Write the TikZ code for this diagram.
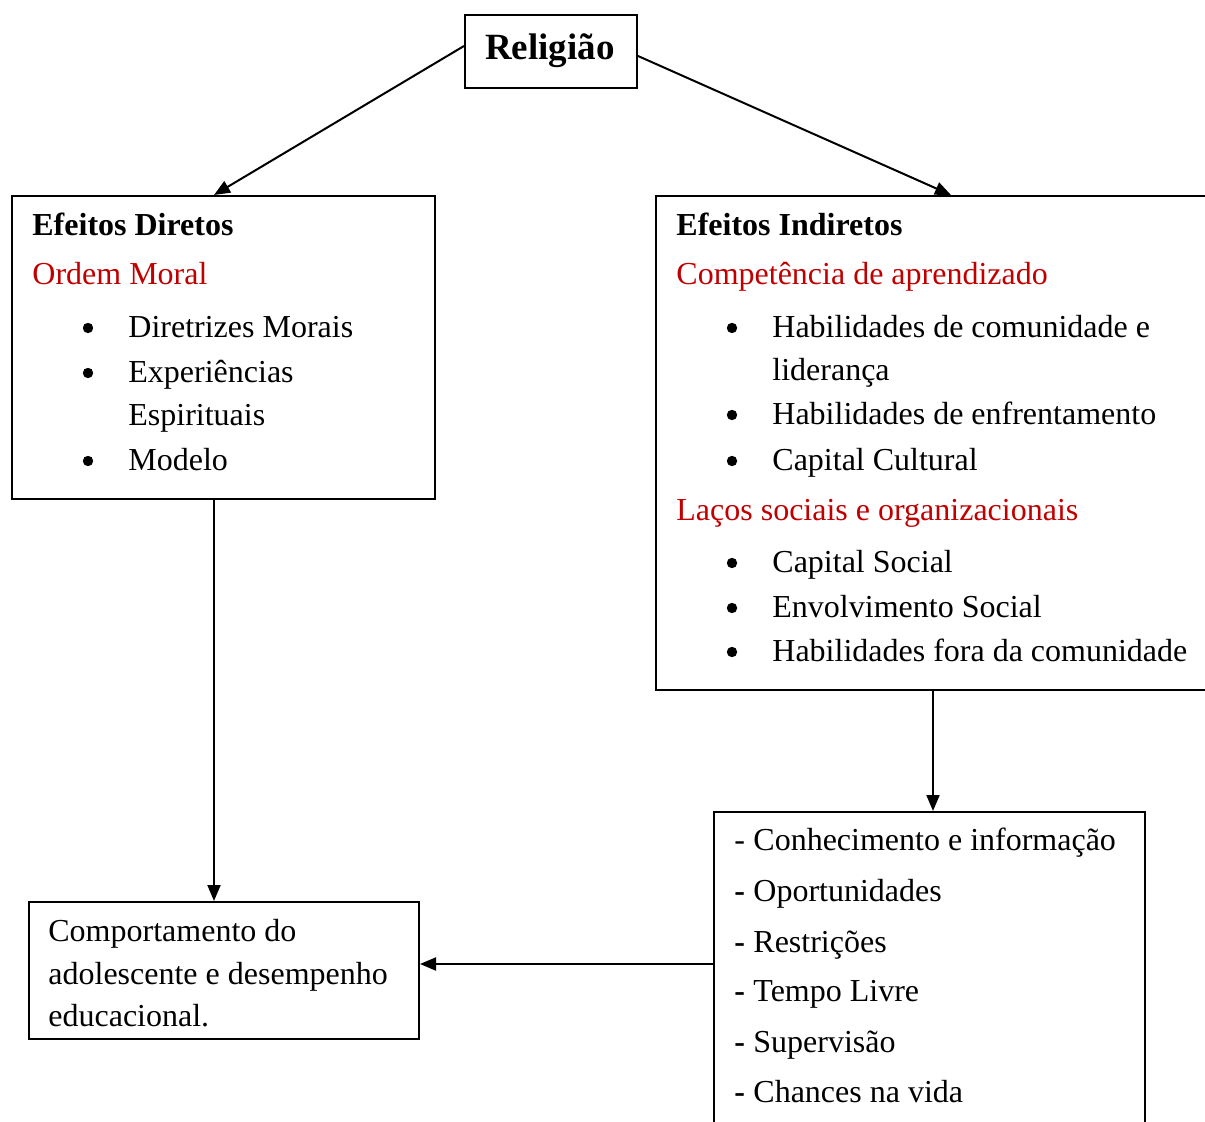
\documentclass[tikz,border=0pt]{standalone}
\usepackage{fontspec}
\setmainfont{Liberation Serif}
\usepackage{xcolor}
\usetikzlibrary{arrows.meta}
\definecolor{topicred}{RGB}{192,0,0}

\begin{document}
\begin{tikzpicture}[x=0.5pt,y=-0.5pt,
    box/.style={draw,line width=1pt,anchor=north west,inner sep=0pt},
    txt/.style={anchor=mid west,inner sep=0pt,yshift=-3.5pt,font=\fontsize{16}{20}\selectfont},
    head/.style={txt,font=\fontsize{16}{20}\selectfont\bfseries},
    topic/.style={txt,text=topicred},
    bul/.style={circle,fill,inner sep=0pt,minimum size=5.2pt,yshift=-1pt},
    arr/.style={-{Triangle[length=8pt,width=6.5pt]},line width=1pt}]
    \useasboundingbox (0,0) rectangle (1205,1122);
    \clip (0,0) rectangle (1205,1122);
    % Draw the boxes
    \node[box,minimum width=86pt,minimum height=36.5pt] (rel) at (464,14) {};
    \node[font=\fontsize{18.5}{22}\selectfont\bfseries] (reltext) at (550,51) {Religião};
    \node[box,minimum width=211.5pt,minimum height=151.5pt] (direct) at (11,195) {};
    \node[box,minimum width=300pt,minimum height=247pt] (indirect) at (655,195) {};
    \node[box,minimum width=195pt,minimum height=68.5pt] (behav) at (28,901) {};
    \node[box,minimum width=215.5pt,minimum height=200pt] (outcome) at (713,811) {};
    % Direct effects
    \node[head] (dhead) at (32,224) {Efeitos Diretos};
    \node[topic] (dmoral) at (32,273) {Ordem Moral};
    \foreach \y/\n in {326/1,371/2,459/3}
        \node[bul] (dbul\n) at (88,\y) {};
    \node[txt] (ditem1) at (128,326) {Diretrizes Morais};
    \node[txt] (ditem2) at (128,371) {Experiências};
    \node[txt] (ditem2b) at (128,414) {Espirituais};
    \node[txt] (ditem3) at (128,459) {Modelo};
    % Indirect effects
    \node[head] (ihead) at (676,224) {Efeitos Indiretos};
    \node[topic] (ilearn) at (676,273) {Competência de aprendizado};
    \node[topic] (isocial) at (676,509) {Laços sociais e organizacionais};
    \foreach \y/\n in {326/1,413/2,459/3,561/4,606/5,650/6}
        \node[bul] (ibul\n) at (732,\y) {};
    \node[txt] (iitem1) at (772,326) {Habilidades de comunidade e};
    \node[txt] (iitem1b) at (772,369) {liderança};
    \node[txt] (iitem2) at (772,413) {Habilidades de enfrentamento};
    \node[txt] (iitem3) at (772,459) {Capital Cultural};
    \node[txt] (iitem4) at (772,561) {Capital Social};
    \node[txt] (iitem5) at (772,606) {Envolvimento Social};
    \node[txt] (iitem6) at (772,650) {Habilidades fora da comunidade};
    % Behaviour and performance
    \node[txt] (bline1) at (48,930) {Comportamento do};
    \node[txt] (bline2) at (48,973) {adolescente e desempenho};
    \node[txt] (bline3) at (48,1015) {educacional.};
    % Mechanisms
    \node[txt] (odash1) at (734,839) {-};
    \foreach \y/\n in {890/2,941/3,990/4,1041/5,1091/6}
        \node[txt,font=\fontsize{16}{20}\selectfont\bfseries] (odash\n) at (734,\y) {-};
    \node[txt] (oitem1) at (753,839) {Conhecimento e informação};
    \node[txt] (oitem2) at (753,890) {Oportunidades};
    \node[txt] (oitem3) at (753,941) {Restrições};
    \node[txt] (oitem4) at (753,990) {Tempo Livre};
    \node[txt] (oitem5) at (753,1041) {Supervisão};
    \node[txt] (oitem6) at (753,1091) {Chances na vida};
    % Draw the connectors
    \draw[arr] ([yshift=2.75pt]rel.west) -- ([xshift=-4.75pt]direct.north);
    \draw[arr] ([yshift=-2.25pt]rel.east) -- ([xshift=-2.5pt]indirect.north);
    \draw[arr] ([xshift=-4.75pt]direct.south) -- ([xshift=-4.75pt]direct.south |- behav.north);
    \draw[arr] ([xshift=-11.5pt]indirect.south) -- ([xshift=-11.5pt]indirect.south |- outcome.north);
    \coordinate (hline) at ([yshift=3.25pt]behav.east);
    \draw[arr] (outcome.west |- hline) -- (hline);
\end{tikzpicture}
\end{document}
